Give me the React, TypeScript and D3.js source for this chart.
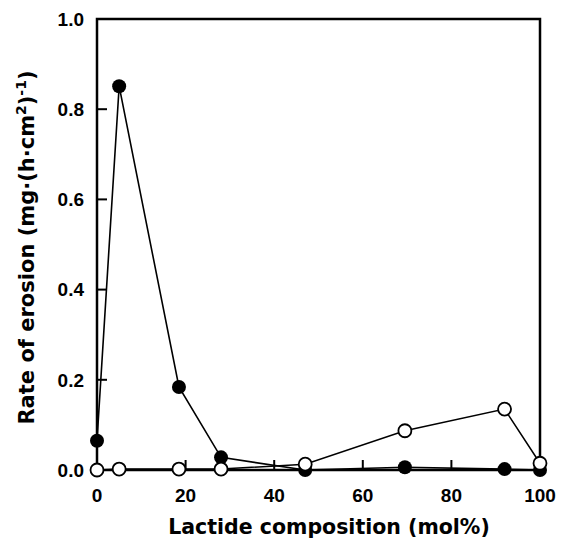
import * as d3 from 'd3';

const composition = [0, 5, 18.5, 28, 47, 69.5, 92, 100];
const filledRate = [0.065, 0.851, 0.184, 0.028, 0.0, 0.006, 0.002, 0.0];
const openRate = [0.0, 0.002, 0.002, 0.002, 0.013, 0.087, 0.135, 0.015];
const xTicks = [0, 20, 40, 60, 80, 100];
const yTicks = [0, 0.2, 0.4, 0.6, 0.8, 1.0];

const W = 564;
const H = 541;
const LEFT = 97;
const RIGHT = 540;
const TOP = 19;
const BOTTOM = 470;
const TICK_FONT = '"Liberation Sans", Arial, Helvetica, sans-serif';
const TITLE_FONT = '"DejaVu Sans", "Liberation Sans", Arial, sans-serif';

export default function App() {
  const x = d3.scaleLinear().domain([0, 100]).range([LEFT, RIGHT]);
  const y = d3.scaleLinear().domain([0, 1]).range([BOTTOM, TOP]);

  const line = d3
    .line<number>()
    .x((_, i) => x(composition[i]))
    .y((d) => y(d));

  return (
    <svg
      width={W}
      height={H}
      style={{ position: 'absolute', left: 0, top: 0, background: '#fff' }}
      fontFamily={TICK_FONT}
    >
      {/* ticks, pointing inward */}
      {yTicks.map((t) => (
        <g key={`y${t}`}>
          <line x1={LEFT} x2={LEFT + 10} y1={y(t)} y2={y(t)} stroke="#000" strokeWidth={2} />
          <text
            x={84}
            y={y(t)}
            dy="0.36em"
            textAnchor="end"
            fontSize={19}
            fontWeight="bold"
          >
            {t.toFixed(1)}
          </text>
        </g>
      ))}
      {xTicks.map((t) => (
        <g key={`x${t}`}>
          <line x1={x(t)} x2={x(t)} y1={BOTTOM} y2={BOTTOM - 10} stroke="#000" strokeWidth={2} />
          <text x={x(t)} y={502} textAnchor="middle" fontSize={19} fontWeight="bold">
            {t}
          </text>
        </g>
      ))}

      <rect
        x={LEFT}
        y={TOP}
        width={RIGHT - LEFT}
        height={BOTTOM - TOP}
        fill="none"
        stroke="#000"
        strokeWidth={2.5}
      />

      <path d={line(openRate) ?? ''} fill="none" stroke="#000" strokeWidth={1.5} />
      <path d={line(filledRate) ?? ''} fill="none" stroke="#000" strokeWidth={1.6} />

      {filledRate.map((v, i) => (
        <circle key={`f${i}`} cx={x(composition[i])} cy={y(v)} r={7} fill="#000" />
      ))}
      {openRate.map((v, i) => (
        <circle
          key={`o${i}`}
          cx={x(composition[i])}
          cy={y(v)}
          r={6.5}
          fill="#fff"
          stroke="#000"
          strokeWidth={1.8}
        />
      ))}

      <text
        x={329}
        y={534}
        textAnchor="middle"
        fontSize={20.5}
        fontWeight="bold"
        fontFamily={TITLE_FONT}
      >
        Lactide composition (mol%)
      </text>

      <text
        transform={`translate(34,${(TOP + BOTTOM) / 2 + 3}) rotate(-90)`}
        textAnchor="middle"
        fontSize={21}
        fontWeight="bold"
        fontFamily={TITLE_FONT}
      >
        Rate of erosion (mg·(h·cm
        <tspan fontSize={14} dy={-8}>2</tspan>
        <tspan dy={8}>)</tspan>
        <tspan fontSize={14} dy={-8}>-1</tspan>
        <tspan dy={8}>)</tspan>
      </text>
    </svg>
  );
}
